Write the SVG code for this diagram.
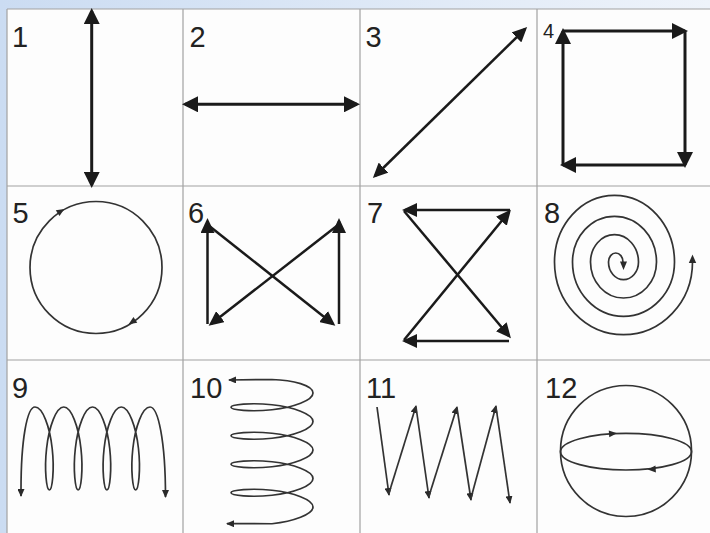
<svg xmlns="http://www.w3.org/2000/svg" width="710" height="533" viewBox="0 0 710 533">
<defs>
<linearGradient id="bg" x1="0" y1="0" x2="1" y2="0">
<stop offset="0" stop-color="#cbdcf2"/>
<stop offset="1" stop-color="#eef3fa"/>
</linearGradient>
<marker id="ab" viewBox="0 0 16 16" refX="13" refY="8" markerWidth="16" markerHeight="16" markerUnits="userSpaceOnUse" orient="auto-start-reverse"><path d="M0,0 L16,8 L0,16 z" fill="#1a1a1a"/></marker>
<marker id="am" viewBox="0 0 15 14" refX="12" refY="7" markerWidth="15" markerHeight="14" markerUnits="userSpaceOnUse" orient="auto-start-reverse"><path d="M0,0 L15,7 L0,14 z" fill="#1a1a1a"/></marker>
<marker id="as" viewBox="0 0 8 7" refX="7" refY="3.5" markerWidth="8" markerHeight="7" markerUnits="userSpaceOnUse" orient="auto-start-reverse"><path d="M0,0 L8,3.5 L0,7 z" fill="#2a2a2a"/></marker>
<path id="tri" d="M4,0 L-4,-3.5 L-4,3.5 z"/>
</defs>
<style>
.lbl{font-family:"Liberation Sans",Arial,sans-serif;font-size:29px;fill:#222}
.thick{stroke:#1a1a1a;stroke-width:3;fill:none}
.med{stroke:#1a1a1a;stroke-width:2.5;fill:none}
.thin{stroke:#333;stroke-width:1.7;fill:none}
.grid{stroke:#a2a2a2;stroke-width:1.2;fill:none}
.ah{fill:#2a2a2a}
</style>
<rect width="710" height="533" fill="url(#bg)"/>
<rect x="7" y="9" width="703" height="524" fill="#fdfdfd"/>
<g id="grid">
<path class="grid" d="M7,9 H710 M7,186 H710 M7,360 H710 M7,9 V533 M183,9 V533 M360,9 V533 M537,9 V533"/>
</g>
<g id="cell1">
<text class="lbl" x="12" y="46.5">1</text>
<line class="thick" x1="91.7" y1="11" x2="91.7" y2="185" marker-start="url(#ab)" marker-end="url(#ab)"/>
</g>
<g id="cell2">
<text class="lbl" x="189.5" y="46.5">2</text>
<line class="thick" x1="185" y1="104.3" x2="357" y2="104.3" marker-start="url(#ab)" marker-end="url(#ab)"/>
</g>
<g id="cell3">
<text class="lbl" x="365.5" y="46.5">3</text>
<line class="med" x1="375" y1="176" x2="525" y2="29" marker-start="url(#am)" marker-end="url(#am)"/>
</g>
<g id="cell4">
<text class="lbl" x="543" y="38" style="font-size:20px">4</text>
<line class="thick" x1="563" y1="165" x2="563" y2="31" marker-end="url(#ab)"/>
<line class="thick" x1="563" y1="31" x2="685" y2="31" marker-end="url(#ab)"/>
<line class="thick" x1="685" y1="31" x2="685" y2="165" marker-end="url(#ab)"/>
<line class="thick" x1="685" y1="165" x2="563" y2="165" marker-end="url(#ab)"/>
</g>
<g id="cell5">
<text class="lbl" x="12.5" y="222.5">5</text>
<circle class="thin" cx="96" cy="267.5" r="66"/>
<use href="#tri" class="ah" transform="translate(61,211) rotate(-32)"/>
<use href="#tri" class="ah" transform="translate(132,322) rotate(147)"/>
</g>
<g id="cell6">
<text class="lbl" x="188" y="222.5">6</text>
<line class="med" x1="207.5" y1="324" x2="207.5" y2="221" marker-end="url(#am)"/>
<line class="med" x1="208" y1="225" x2="333" y2="324" marker-end="url(#am)"/>
<line class="med" x1="339" y1="324" x2="339" y2="221" marker-end="url(#am)"/>
<line class="med" x1="338" y1="225" x2="211" y2="324" marker-end="url(#am)"/>
</g>
<g id="cell7">
<text class="lbl" x="367" y="222.5">7</text>
<line class="med" x1="510" y1="210" x2="405" y2="210" marker-end="url(#am)"/>
<line class="med" x1="404" y1="211" x2="509" y2="336" marker-end="url(#am)"/>
<line class="med" x1="509" y1="341" x2="405" y2="341" marker-end="url(#am)"/>
<line class="med" x1="404" y1="340" x2="509" y2="212" marker-end="url(#am)"/>
</g>
<g id="cell8">
<text class="lbl" x="544" y="222.5">8</text>
<path class="thin" d="M623,262 A7.25,9 0 0 0 608.5,262 A15,17.7 0 0 0 638.5,262 A24,27.3 0 0 0 590.5,262 A33,36 0 0 0 656.5,262 A42,45.7 0 0 0 572.5,262 A51,54.3 0 0 0 674.5,262 A60,66.7 0 0 0 554.5,262 A69,72.7 0 0 0 692.5,262"/>
<polygon class="ah" points="623.5,270 620,261.5 627,261.5"/>
<polygon class="ah" points="692.5,254.5 688.8,263 696.2,263"/>
</g>
<g id="cell9">
<text class="lbl" x="12" y="398">9</text>
<path class="thin" marker-start="url(#as)" marker-end="url(#as)" d="M21,496 L21,490 C21,440 27,407 35,407 c7.63,0 14.79,19.77 17.19,41.5 c2.4,21.73 0.03,41.5 -2.81,41.5 c-2.84,0 -5.22,-19.77 -2.81,-41.5 c2.4,-21.73 9.56,-41.5 17.190,-41.5 c7.63,0 14.79,19.77 17.19,41.5 c2.4,21.73 0.03,41.5 -2.81,41.5 c-2.84,0 -5.22,-19.77 -2.81,-41.5 c2.4,-21.73 9.56,-41.5 17.19,-41.5 c7.63,0 14.79,19.77 17.19,41.5 c2.4,21.73 0.03,41.5 -2.81,41.5 c-2.84,0 -5.22,-19.77 -2.81,-41.5 c2.4,-21.73 9.56,-41.5 17.19,-41.5 c7.63,0 14.79,19.77 17.19,41.5 c2.4,21.73 0.03,41.5 -2.81,41.5 c-2.84,0 -5.22,-19.77 -2.81,-41.5 c2.4,-21.73 9.56,-41.5 17.19,-41.5 C158,407 165.5,440 165.5,497"/>
</g>
<g id="cell10">
<text class="lbl" x="190" y="398">10</text>
<path class="thin" marker-start="url(#as)" marker-end="url(#as)" d="M229,380 L272,379.5 C293.5,380 313,385.6 313,393 c0,7.4 -19.53,14.35 -41,16.725 c-21.47,2.375 -41,0.175 -41,-2.475 c0,-2.65 19.53,-4.85 41,-2.475 c21.47,2.375 41,9.325 41,16.725 c0,7.4 -19.53,14.35 -41,16.725 c-21.47,2.375 -41,0.175 -41,-2.475 c0,-2.65 19.53,-4.85 41,-2.475 c21.47,2.375 41,9.325 41,16.725 c0,7.4 -19.53,14.35 -41,16.725 c-21.47,2.375 -41,0.175 -41,-2.475 c0,-2.65 19.53,-4.85 41,-2.475 c21.47,2.375 41,9.325 41,16.725 c0,7.4 -19.53,14.35 -41,16.725 c-21.47,2.375 -41,0.175 -41,-2.475 c0,-2.65 19.53,-4.85 41,-2.475 c21.47,2.375 41,9.325 41,16.725 c0,7.4 -19.53,14.35 -41,16.725 L227,523.7"/>
</g>
<g id="cell11">
<text class="lbl" x="366" y="398">11</text>
<line class="thin" x1="377" y1="407" x2="389" y2="495" marker-end="url(#as)"/>
<line class="thin" x1="389" y1="493" x2="416" y2="406" marker-end="url(#as)"/>
<line class="thin" x1="416" y1="407" x2="429" y2="498" marker-end="url(#as)"/>
<line class="thin" x1="429" y1="496" x2="457" y2="407" marker-end="url(#as)"/>
<line class="thin" x1="457" y1="408" x2="471" y2="500" marker-end="url(#as)"/>
<line class="thin" x1="471" y1="498" x2="496" y2="406" marker-end="url(#as)"/>
<line class="thin" x1="496" y1="407" x2="510" y2="503" marker-end="url(#as)"/>
</g>
<g id="cell12">
<text class="lbl" x="545" y="398">12</text>
<circle class="thin" cx="626" cy="451" r="65.5"/>
<ellipse class="thin" cx="626" cy="451.7" rx="65.5" ry="18.3"/>
<use href="#tri" class="ah" transform="translate(613,433.6) rotate(-4)"/>
<use href="#tri" class="ah" transform="translate(651.7,469.2) rotate(176)"/>
</g>
</svg>
